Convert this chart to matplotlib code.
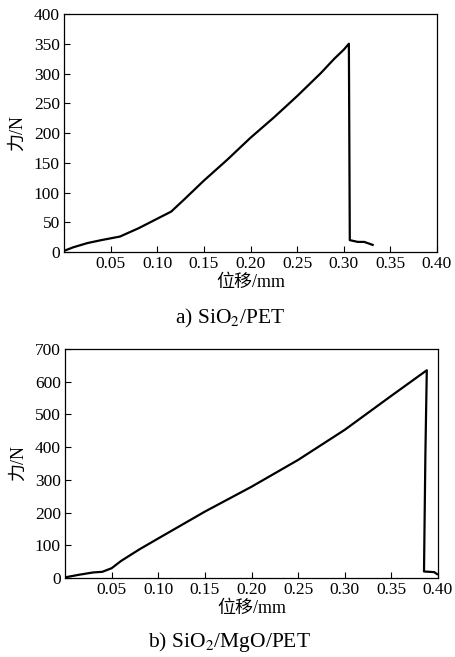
import matplotlib
matplotlib.use("Agg")
import matplotlib.pyplot as plt

plt.rcParams['font.family'] = ['Liberation Serif', 'Noto Sans CJK SC']
plt.rcParams['mathtext.fontset'] = 'stix'

# a) SiO2/PET force-displacement curve
disp_a = [0.0, 0.01, 0.025, 0.04, 0.06, 0.08, 0.10, 0.115, 0.13, 0.15, 0.175,
          0.20, 0.225, 0.25, 0.275, 0.29, 0.30, 0.3055, 0.3065, 0.315, 0.322, 0.331]
force_a = [2, 8, 15, 20, 26, 40, 56, 68, 90, 120, 155,
           192, 226, 262, 300, 325, 340, 350, 20, 17, 17, 12]

# b) SiO2/MgO/PET force-displacement curve
disp_b = [0.0, 0.015, 0.03, 0.04, 0.05, 0.06, 0.08, 0.10, 0.15, 0.20,
          0.25, 0.30, 0.35, 0.388, 0.3865, 0.385, 0.396, 0.399]
force_b = [2, 10, 17, 19, 30, 52, 88, 121, 203, 279,
           361, 453, 557, 635, 380, 20, 18, 12]

xticks = [0.05, 0.10, 0.15, 0.20, 0.25, 0.30, 0.35, 0.40]
yticks_a = list(range(0, 401, 50))
yticks_b = list(range(0, 701, 100))

fig = plt.figure(figsize=(4.55, 6.57), dpi=100)
ax1 = fig.add_axes([0.1407, 0.6164, 0.8197, 0.3623])
ax2 = fig.add_axes([0.1429, 0.1202, 0.8197, 0.3486])

panels = [
    (ax1, disp_a, force_a, yticks_a, 400, 'a) SiO$_2$/PET', 0.516),
    (ax2, disp_b, force_b, yticks_b, 700, 'b) SiO$_2$/MgO/PET', 0.0228),
]

for ax, x, y, yt, ymax, cap, cap_y in panels:
    ax.plot(x, y, color='black', lw=1.6, solid_joinstyle='round')
    ax.set_xlim(0, 0.40)
    ax.set_ylim(0, ymax)
    ax.set_xticks(xticks)
    ax.set_xticklabels(['%.2f' % t for t in xticks])
    ax.set_yticks(yt)
    ax.tick_params(direction='in', length=4, width=0.8, labelsize=12.5, pad=3,
                   top=False, right=False)
    for s in ax.spines.values():
        s.set_linewidth(0.9)
    ax.set_xlabel('位移/mm', fontsize=13, labelpad=1)
    ax.set_ylabel('力/N', fontsize=13, labelpad=6)
    fig.text(0.505, cap_y, cap, ha='center', va='center', fontsize=15.5)

fig.savefig('out.png', dpi=100)
